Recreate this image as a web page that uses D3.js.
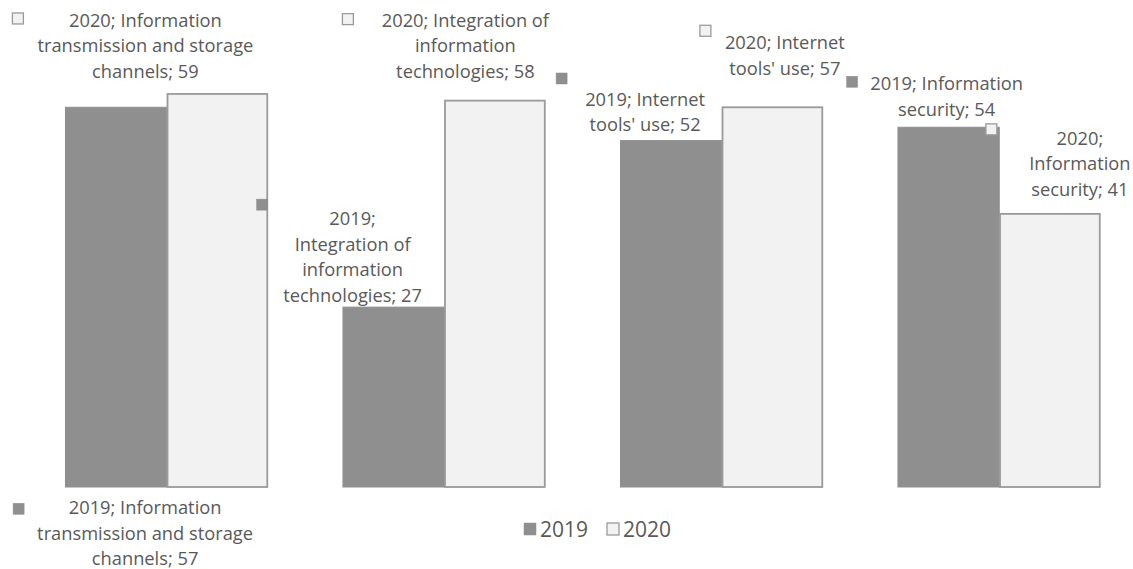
<!DOCTYPE html>
<html><head><meta charset="utf-8">
<script src="https://cdn.jsdelivr.net/npm/d3@7/dist/d3.min.js"></script>
<style>html,body{margin:0;padding:0;background:#fff;}svg{display:block;font-family:"Open Sans",sans-serif;}</style>
</head><body><svg id="c" width="1133" height="569"></svg>
<script>
const categories = ["Information transmission and storage channels","Integration of information technologies","Internet tools' use","Information security"];
const seriesNames = ["2019","2020"];
const values2019 = [57,27,52,54];
const values2020 = [59,58,57,41];

// data label text lines (manual wrapping as in the reference)
const labelLines = [
  {s:"2020", c:0, lines:["2020; Information","transmission and storage","channels; 59"]},
  {s:"2019", c:0, lines:["2019; Information","transmission and storage","channels; 57"]},
  {s:"2020", c:1, lines:["2020; Integration of","information","technologies; 58"]},
  {s:"2019", c:1, lines:["2019;","Integration of","information","technologies; 27"]},
  {s:"2019", c:2, lines:["2019; Internet","tools' use; 52"]},
  {s:"2020", c:2, lines:["2020; Internet","tools' use; 57"]},
  {s:"2019", c:3, lines:["2019; Information","security; 54"]},
  {s:"2020", c:3, lines:["2020;","Information","security; 41"]}
];
// layout offsets: text relative to bar center/top; marker relative to text anchor
const labelOffsets = [
  {dx:-72, dy:-67, mx:-133, my:-14},
  {dx:29, dy:407, mx:-132, my:-11},
  {dx:-29.5, dy:-74, mx:-123, my:-13},
  {dx:-41, dy:-82, mx:-96, my:-26},
  {dx:-26, dy:-34.6, mx:-89, my:-33},
  {dx:12.5, dy:-58, mx:-85, my:-24},
  {dx:-2, dy:-37, mx:-100, my:-14},
  {dx:30, dy:-69, mx:-94, my:-21}
];

const fills = {"2019":"#8f8f8f","2020":"#f2f2f2"};
const strokes = {"2019":"#8f8f8f","2020":"#9a9a9a"};
const textColor = "#595959";
const fontSize = "18.3px";
const svg = d3.select("#c");

const x0 = d3.scaleBand().domain(categories).range([28,1138]).paddingInner(0.27).paddingOuter(0.135);
const x1 = d3.scaleBand().domain(seriesNames).range([0,x0.bandwidth()]);
const y = d3.scaleLinear().domain([0,60]).range([487,87.3]);

const data = [];
categories.forEach((c,i)=>{
  data.push({s:"2019",c:i,v:values2019[i]});
  data.push({s:"2020",c:i,v:values2020[i]});
});

svg.append("g").selectAll("rect").data(data).join("rect")
  .attr("x",d=>x0(categories[d.c])+x1(d.s)+(d.s==="2020"?0.75:0))
  .attr("y",d=>y(d.v))
  .attr("width",d=>x1.bandwidth()-(d.s==="2020"?1.5:0))
  .attr("height",d=>y(0)-y(d.v))
  .attr("fill",d=>fills[d.s])
  .attr("stroke",d=>strokes[d.s])
  .attr("stroke-width",d=>d.s==="2020"?1.8:1);

const getVal=(s,c)=> s==="2019"?values2019[c]:values2020[c];
const lh = 25.5;
labelLines.forEach((L,i)=>{
  const o = labelOffsets[i];
  const bx = x0(categories[L.c])+x1(L.s)+x1.bandwidth()/2;
  const by = y(getVal(L.s,L.c));
  const tx = bx+o.dx, ty = by+o.dy;
  const g = svg.append("g");
  g.append("rect").attr("x",tx+o.mx).attr("y",ty+o.my).attr("width",11).attr("height",11)
    .attr("fill",fills[L.s]).attr("stroke",strokes[L.s]).attr("stroke-width",L.s==="2020"?1.3:0.5);
  const t = g.append("text").attr("text-anchor","middle").attr("fill",textColor)
    .style("font-size",fontSize);
  L.lines.forEach((ln,j)=>{
    t.append("tspan").attr("x",tx).attr("y",ty+j*lh).text(ln);
  });
});

// legend
const legend = svg.append("g");
const legItems = [{s:"2019",x:524},{s:"2020",x:607}];
legItems.forEach(it=>{
  legend.append("rect").attr("x",it.x).attr("y",523).attr("width",12).attr("height",12)
    .attr("fill",fills[it.s]).attr("stroke",strokes[it.s]).attr("stroke-width",it.s==="2020"?1.3:0.5);
  legend.append("text").attr("x",it.x+16).attr("y",537).attr("fill",textColor)
    .style("font-size","21px").text(it.s);
});
</script></body></html>
